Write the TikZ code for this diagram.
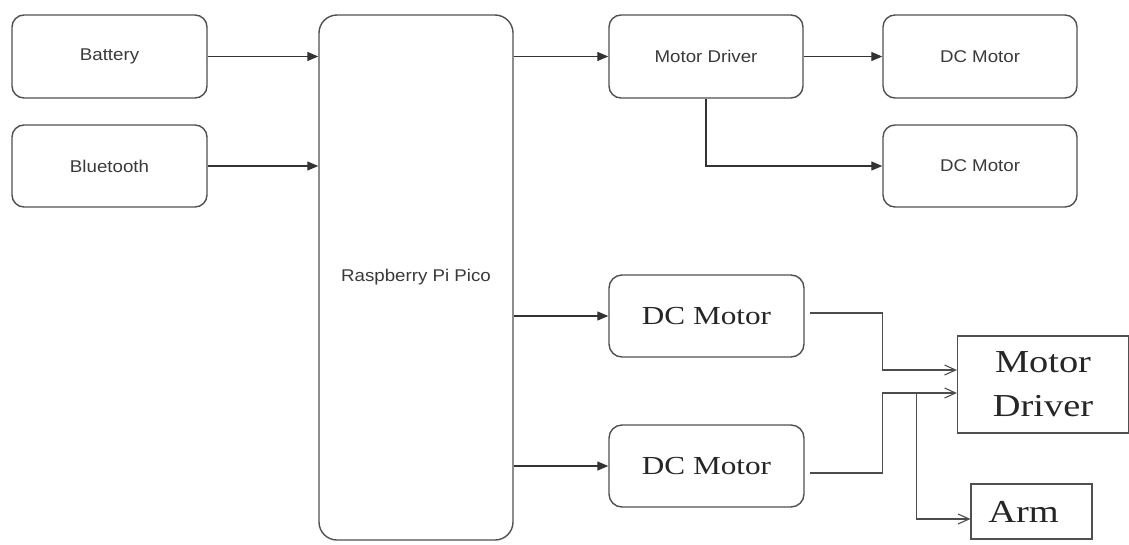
\documentclass[tikz,border=0pt]{standalone}
\usepackage{fontspec}
\setmainfont{Liberation Serif}
\newfontfamily\boxsans[FakeStretch=1.1]{Liberation Sans}
\newfontfamily\boxserif[FakeStretch=1.2]{Liberation Serif}
\usetikzlibrary{arrows.meta,positioning,calc}
\definecolor{edge}{HTML}{505050}
\definecolor{txt}{HTML}{3A3A3A}
\begin{document}
\begin{tikzpicture}[x=1pt,y=-1pt,
  sbox/.style={draw=edge,line width=1.4pt,rounded corners=12pt,inner sep=0pt,
    text=txt,font=\boxsans\fontsize{17}{20}\selectfont},
  rbox/.style={draw=edge,line width=1.4pt,rounded corners=13pt,inner sep=0pt,
    text=black!85,font=\boxserif\fontsize{26}{30}\selectfont},
  pbox/.style={draw=edge,line width=1.2pt,inner sep=0pt,
    text=black!85,font=\boxserif\fontsize{32}{44}\selectfont,align=center},
  farr/.style={draw=black!80,line width=1.3pt,-{Triangle[length=11pt,width=9pt]}},
  oarr/.style={draw=black!70,line width=1.1pt,-{Straight Barb[length=11pt,width=10pt,line width=1.1pt]}},
  pline/.style={draw=black!70,line width=1.1pt}]
\useasboundingbox (0,0) rectangle (1129,544);
\fill[white] (0,0) rectangle (1129,544);
% boxes
\node[sbox,minimum width=195pt,minimum height=83pt] (bat) at (109.5,56.5) {Battery};
\node[sbox,minimum width=195pt,minimum height=82pt] (bt) at (109.5,166) {Bluetooth};
\node[sbox,rounded corners=18pt,minimum width=194pt,minimum height=525pt] (pi) at (416,277.5) {Raspberry Pi Pico};
\node[sbox,minimum width=194pt,minimum height=83pt] (md) at (706,56.5) {Motor Driver};
\node[sbox,minimum width=194pt,minimum height=83pt] (dc1) at (980,56.5) {DC Motor};
\node[sbox,minimum width=194pt,minimum height=82pt] (dc2) at (980,166) {DC Motor};
\node[rbox,minimum width=195pt,minimum height=82pt] (dc3) at (706.5,316) {DC Motor};
\node[rbox,minimum width=195pt,minimum height=82pt] (dc4) at (706.5,466) {DC Motor};
\node[pbox,minimum width=171pt,minimum height=97pt] (mdr) at (1043,384.5) {Motor\\Driver};
\node[pbox,minimum width=121pt,minimum height=55pt] (arm) at (1031.5,511.5) {\hspace*{-16pt}Arm};
% coordinates
\coordinate (in1) at ([yshift=14.5pt]mdr.west);
\coordinate (in2) at ([yshift=-8.5pt]mdr.west);
\coordinate (armin) at ([yshift=-7.5pt]arm.west);
% arrows
\draw[farr] (bat.east) -- (bat.east -| pi.west);
\draw[farr] (bt.east) -- (bt.east -| pi.west);
\draw[farr] (md.west -| pi.east) -- (md.west);
\draw[farr] (md.east) -- (dc1.west);
\draw[farr] (md.south) |- (dc2.west);
\draw[farr] (dc3.west -| pi.east) -- (dc3.west);
\draw[farr] (dc4.west -| pi.east) -- (dc4.west);
\draw[oarr] ([xshift=5pt,yshift=3pt]dc3.east) -| ([xshift=-74pt]in1) -- (in1);
\draw[oarr] ([xshift=5pt,yshift=-7pt]dc4.east) -| ([xshift=-74pt]in2) -- (in2);
\draw[oarr] ([xshift=-40pt]in2) |- (armin);
\end{tikzpicture}
\end{document}
